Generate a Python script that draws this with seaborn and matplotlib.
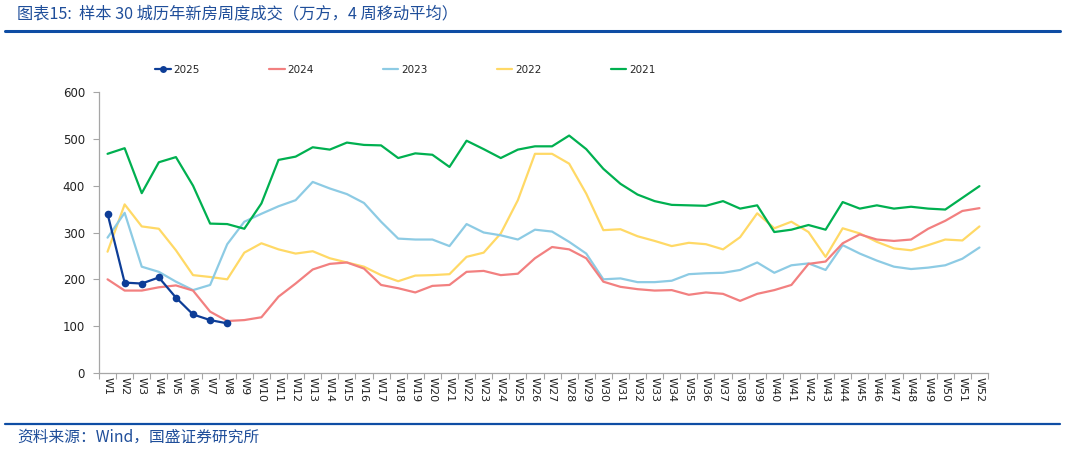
import numpy as np
import pandas as pd
import matplotlib
matplotlib.use("Agg")
import matplotlib.pyplot as plt
import seaborn as sns
from matplotlib.lines import Line2D

weeks = [f"W{i}" for i in range(1, 53)]

y2025 = [340, 193, 191, 204, 161, 125, 113, 106]
y2024 = [200, 176, 176, 183, 187, 176, 131, 111, 113, 119, 163, 191, 221,
         233, 236, 223, 188, 181, 172, 186, 188, 216, 218, 209, 212, 245,
         269, 264, 245, 195, 184, 179, 176, 177, 167, 172, 169, 154, 169,
         177, 188, 233, 238, 277, 296, 285, 282, 285, 308, 325, 346, 352]
y2023 = [289, 342, 227, 216, 195, 177, 188, 275, 323, 340, 356, 369, 408,
         394, 382, 363, 323, 287, 285, 285, 271, 318, 300, 294, 285, 306,
         302, 280, 255, 200, 202, 194, 194, 197, 211, 213, 214, 220, 236,
         214, 230, 234, 220, 273, 255, 240, 227, 222, 225, 230, 244, 268]
y2022 = [259, 360, 313, 308, 262, 209, 205, 200, 257, 277, 264, 255, 260,
         245, 236, 227, 209, 196, 208, 209, 211, 248, 257, 298, 369, 468,
         468, 447, 383, 305, 307, 292, 282, 271, 278, 275, 264, 290, 341,
         309, 323, 301, 248, 309, 298, 280, 266, 262, 273, 285, 283, 313]
y2021 = [468, 480, 384, 450, 461, 400, 319, 318, 308, 362, 455, 462, 482,
         477, 492, 487, 486, 459, 469, 466, 440, 496, 478, 459, 477, 484,
         484, 507, 478, 436, 404, 381, 367, 359, 358, 357, 367, 351, 358,
         301, 306, 316, 306, 365, 351, 358, 351, 355, 351, 349, 374, 399]

series = [
    ("2025", y2025, "#0D3D97"),
    ("2024", y2024, "#F28080"),
    ("2023", y2023, "#8DCBE4"),
    ("2022", y2022, "#FFD966"),
    ("2021", y2021, "#00B050"),
]

sns.set_theme(style="white")
plt.rcParams["font.family"] = ["DejaVu Sans", "Noto Sans CJK SC"]

fig = plt.figure(figsize=(10.65, 4.49), dpi=100)
ax = fig.add_axes([99 / 1065, 1 - 373 / 449, 889 / 1065, 281 / 449])

z = {"2025": 10, "2024": 5, "2023": 4, "2022": 3, "2021": 6}
for name, vals, col in series:
    df = pd.DataFrame({"x": np.arange(len(vals)), "y": vals})
    if name == "2025":
        sns.lineplot(data=df, x="x", y="y", ax=ax, color=col, linewidth=1.6,
                     marker="o", markersize=5.5, markeredgewidth=0, zorder=z[name])
    else:
        sns.lineplot(data=df, x="x", y="y", ax=ax, color=col, linewidth=1.6,
                     zorder=z[name])

ax.set_xlim(-0.5, 51.5)
ax.set_ylim(0, 600)
ax.set_xlabel("")
ax.set_ylabel("")
ax.set_xticks(np.arange(52))
ax.set_xticklabels(weeks, rotation=-90, fontsize=8, color="#222222")
ax.set_xticks(np.arange(-0.5, 52, 1), minor=True)
ax.tick_params(axis="x", which="major", length=0, pad=3)
ax.tick_params(axis="x", which="minor", length=4, width=0.8, color="#A6A6A6", direction="out")
ax.set_yticks(np.arange(0, 601, 100))
ax.tick_params(axis="y", which="major", length=4, width=0.8, color="#A6A6A6",
               direction="out", labelsize=8.5, labelcolor="#222222", pad=6)
ax.tick_params(axis="both", which="both", bottom=True, left=True)
for s in ["top", "right"]:
    ax.spines[s].set_visible(False)
for s in ["left", "bottom"]:
    ax.spines[s].set_color("#A6A6A6")
    ax.spines[s].set_linewidth(0.9)
ax.grid(False)

handles = []
for name, vals, col in series:
    if name == "2025":
        handles.append(Line2D([], [], color=col, lw=1.6, marker="o", markersize=5, markeredgewidth=0))
    else:
        handles.append(Line2D([], [], color=col, lw=1.6))
fig.legend(handles, [s[0] for s in series], loc="center left",
           bbox_to_anchor=(155 / 1065, 1 - 70 / 449), ncol=5, frameon=False,
           fontsize=7.5, handlelength=1.5, handletextpad=0.3, columnspacing=6.6,
           borderpad=0, borderaxespad=0)

blue = "#1F4E9A"
fig.text(17 / 1065, 1 - 14 / 449, "图表15:  样本 30 城历年新房周度成交（万方，4 周移动平均）",
         fontsize=11.7, color=blue, va="center", ha="left",
         family=["Noto Sans CJK SC", "DejaVu Sans"])
fig.add_artist(Line2D([5 / 1065, 1060 / 1065], [1 - 31 / 449, 1 - 31 / 449],
                      color="#0E4DA4", lw=2.2, transform=fig.transFigure))
fig.add_artist(Line2D([5 / 1065, 1060 / 1065], [1 - 424 / 449, 1 - 424 / 449],
                      color="#0E4DA4", lw=1.6, transform=fig.transFigure))
fig.text(17 / 1065, 1 - 437 / 449, "资料来源：Wind，国盛证券研究所",
         fontsize=11.3, color=blue, va="center", ha="left",
         family=["Noto Sans CJK SC", "DejaVu Sans"])

fig.savefig("out.png", dpi=100)
